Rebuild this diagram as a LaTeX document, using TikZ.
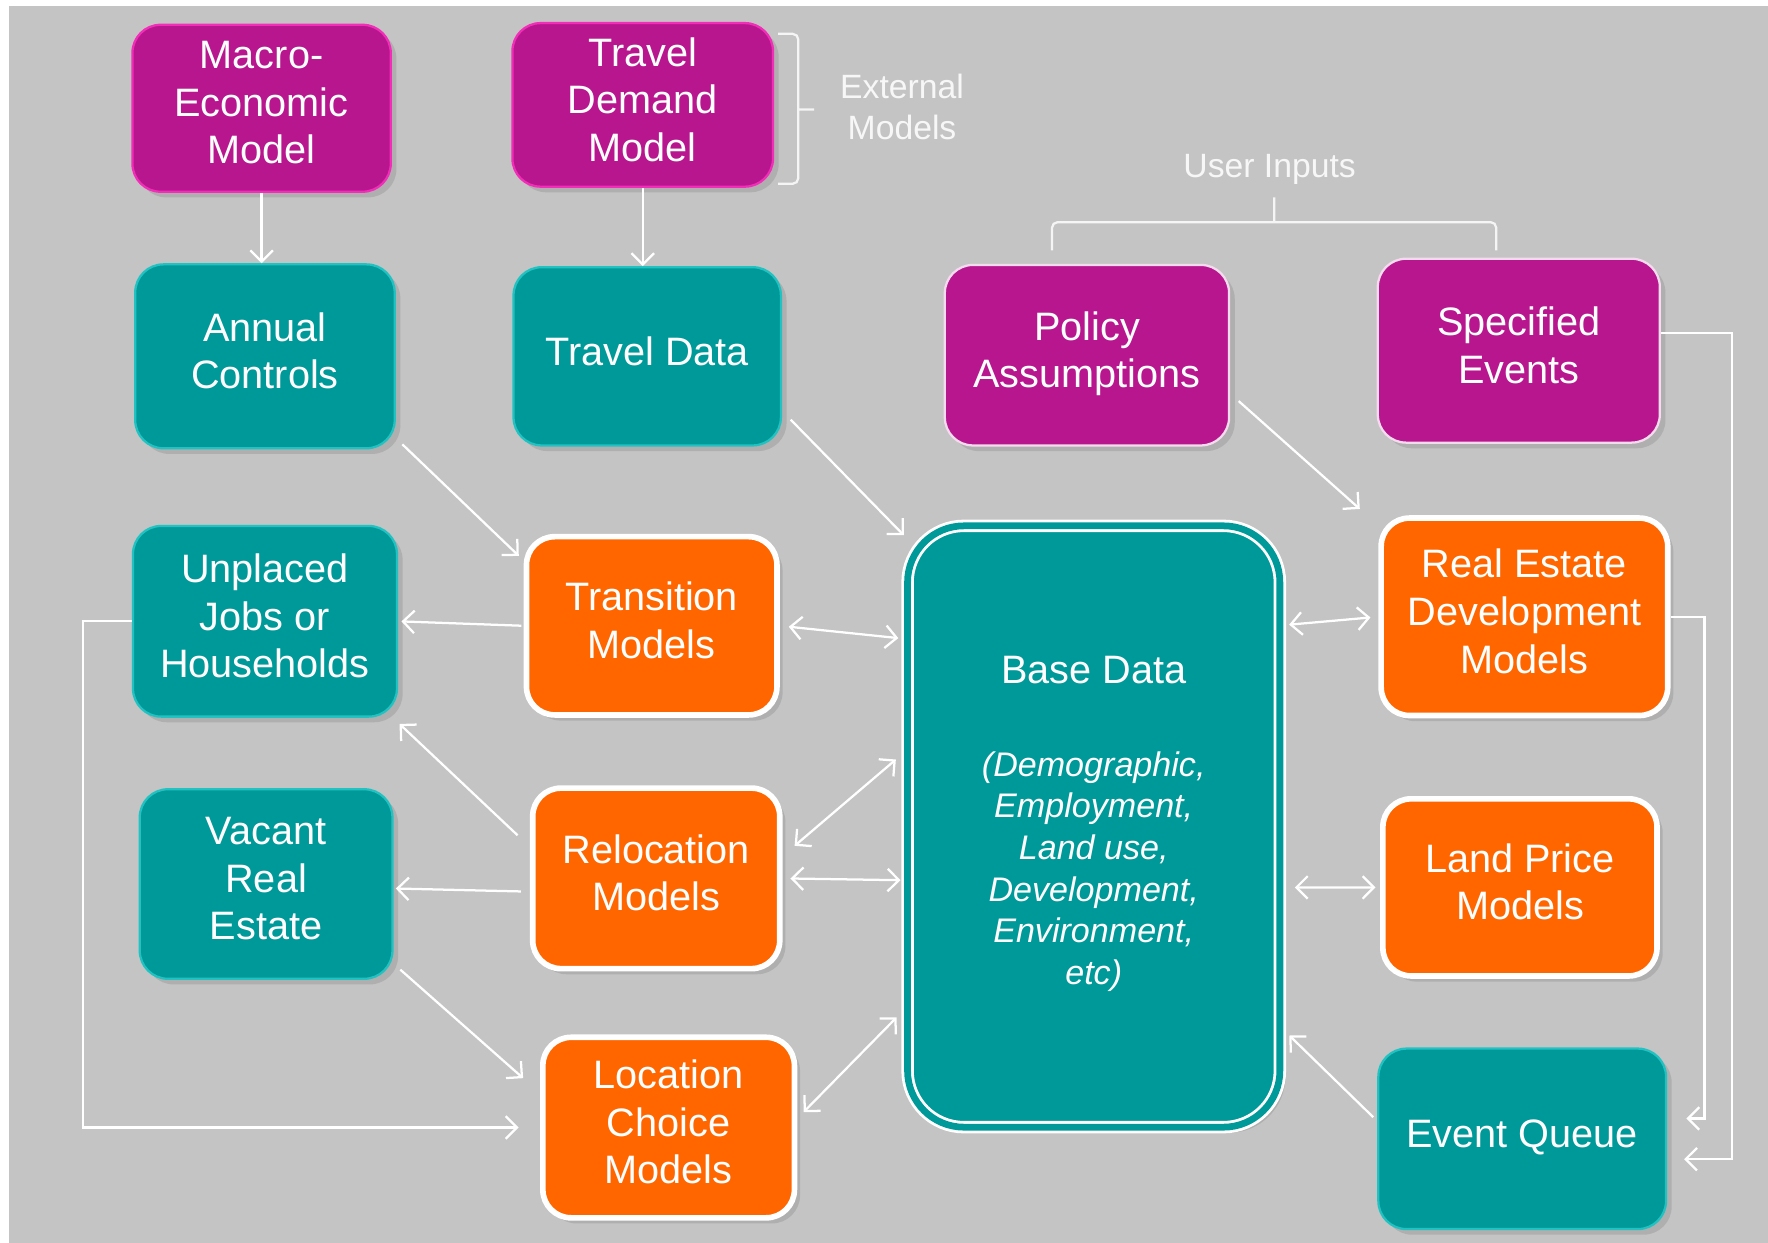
\documentclass[tikz,border=0pt]{standalone}
\usepackage{fontspec}
\setmainfont{Liberation Sans}
\usetikzlibrary{arrows.meta}
\usetikzlibrary{shadows}

\definecolor{bggray}{HTML}{C4C4C4}
\definecolor{plum}{HTML}{B8168E}
\definecolor{pinkrim}{HTML}{F22EB8}
\definecolor{seateal}{HTML}{009999}
\definecolor{tealrim}{HTML}{22C2C2}
\definecolor{burnt}{HTML}{FF6600}

\begin{document}
\begin{tikzpicture} [
        x=0.01cm, y=-0.01cm,
        box/.style={rectangle, rounded corners=0.25cm, text=white, align=center,
            font=\fontsize{10}{12}\selectfont, inner sep=0pt,
            execute at end node={\rule[-0.1cm]{0pt}{0.1cm}},
            drop shadow={opacity=0.3, shadow xshift=0.05cm, shadow yshift=-0.05cm}},
        extmodel/.style={box, draw=pinkrim, line width=0.02cm, fill=plum},
        userinput/.style={box, draw=white!85!plum, line width=0.02cm, fill=plum},
        datastore/.style={box, draw=tealrim, line width=0.02cm, fill=seateal},
        submodel/.style={box, draw=white, line width=0.05cm, fill=burnt},
        basedata/.style={box, draw=white, line width=0.025cm, double=seateal,
            double distance=0.06cm, fill=seateal, rounded corners=0.5cm,
            minimum width=3.3cm, minimum height=5.33cm},
        link/.style={white, line width=0.02cm,
            >={Straight Barb[length=0.1cm, width=0.2cm]}},
        bracket/.style={white!92!gray, line width=0.02cm, rounded corners=0.05cm},
        note/.style={text=white!94!gray, align=center, font=\fontsize{8.5}{10.3}\selectfont} ]
    \useasboundingbox (0,0) rectangle (1568,1102);
    \fill[white] (0,0) rectangle (1568,1102);
    \fill[bggray] (8,5) rectangle (1568,1102);

    \node[extmodel, minimum width=2.29cm, minimum height=1.48cm] (mac) at (232,96) {Macro-\\Economic\\Model};
    \node[extmodel, minimum width=2.31cm, minimum height=1.45cm, execute at begin node={\rule{0pt}{0.37cm}}] (tdm) at (570,93) {Travel\\Demand\\Model};
    \node[datastore, minimum width=2.30cm, minimum height=1.63cm] (ann) at (235,316) {Annual\\Controls};
    \node[datastore, minimum width=2.37cm, minimum height=1.58cm] (trd) at (574,316) {Travel Data};
    \node[userinput, minimum width=2.52cm, minimum height=1.60cm] (pol) at (964,315) {Policy\\Assumptions};
    \node[userinput, minimum width=2.50cm, minimum height=1.63cm] (spe) at (1347,311) {Specified\\Events};
    \node[datastore, minimum width=2.34cm, minimum height=1.69cm] (unp) at (235,551) {Unplaced\\Jobs or\\Households};
    \node[submodel, minimum width=2.22cm, minimum height=1.58cm] (tra) at (578,555) {Transition\\Models};
    \node[datastore, minimum width=2.24cm, minimum height=1.68cm] (vac) at (236,784) {Vacant\\Real\\Estate};
    \node[submodel, minimum width=2.19cm, minimum height=1.60cm] (rel) at (582,779) {Relocation\\Models};
    \node[submodel, minimum width=2.23cm, minimum height=1.60cm] (loc) at (593,1000) {Location\\Choice\\Models};
    \node[basedata] (bas) at (970,733) {Base Data\\[0.4cm]\itshape\fontsize{8.6}{10.5}\selectfont
        \begin{tabular}[t]{@{}c@{}}(Demographic,\\Employment,\\Land use,\\Development,\\Environment,\\etc)\end{tabular}};
    \node[submodel, minimum width=2.54cm, minimum height=1.75cm] (red) at (1352,547) {Real Estate\\Development\\Models};
    \node[submodel, minimum width=2.43cm, minimum height=1.57cm] (lpm) at (1348,787) {Land Price\\Models};
    \node[datastore, minimum width=2.55cm, minimum height=1.60cm] (evq) at (1350,1010) {Event Queue};

    \draw[bracket] (690,30) -- (708,30) -- (708,163) -- (690,163) (708,97) -- (722,97);
    \node[note] (ext) at (800,95) {External\\Models};
    \draw[bracket] (933,222) -- (933,197) -- (1327,197) -- (1327,222) (1130,197) -- (1130,175);
    \node[note] (usr) at (1126,150) {User Inputs};

    \draw[link, ->] (mac.south) -- (mac.south |- ann.north);
    \draw[link, ->] (tdm.south) -- (tdm.south |- trd.north);
    \draw[link, ->, shorten <=0.08cm, shorten >=0.06cm] (ann.-32) -- (tra.153);
    \draw[link, ->, shorten <=0.11cm, shorten >=0.03cm] (trd.-22) -- (bas.123);
    \draw[link, ->, shorten <=0.1cm, shorten >=0.22cm] (pol.-15) -- (red.148);
    \draw[link, ->, shorten <=0.02cm, shorten >=0.03cm] (tra.west) -- (unp.east);
    \draw[link, <->, shorten <=0.08cm, shorten >=0.07cm] (tra.east) -- (bas.135);
    \draw[link, ->, shorten <=0.15cm, shorten >=0.08cm] (rel.166) -- (unp.-37);
    \draw[link, <->, shorten <=0.14cm, shorten >=0.12cm] (rel.10) -- (bas.158);
    \draw[link, ->, shorten <=0.08cm, shorten >=0.02cm] (rel.186) -- (vac.-2);
    \draw[link, <->, shorten <=0.07cm, shorten >=0.05cm] (rel.east) -- (bas.196);
    \draw[link, ->, shorten <=0.08cm, shorten >=0.2cm] (vac.-32) -- (loc.165);
    \draw[link, ->, shorten >=0.19cm] (unp.west) -- ++(-43,0) |- (loc.west);
    \draw[link, <->, shorten <=0.08cm, shorten >=0.12cm] (loc.4) -- (bas.224);
    \draw[link, <->, shorten <=0.07cm, shorten >=0.07cm] (bas.47) -- (red.west);
    \draw[link, <->, shorten <=0.12cm, shorten >=0.04cm] (bas.-18) -- (lpm.west);
    \draw[link, ->, shorten <=0.05cm, shorten >=0.1cm] (evq.173) -- (bas.-47);
    \draw[link, ->, shorten >=0.15cm] (spe.7) -- ++(63,0) |- (evq.-8);
    \draw[link, ->, shorten >=0.17cm] (red.east) -- ++(30,0) |- (evq.8);
\end{tikzpicture}
\end{document}
